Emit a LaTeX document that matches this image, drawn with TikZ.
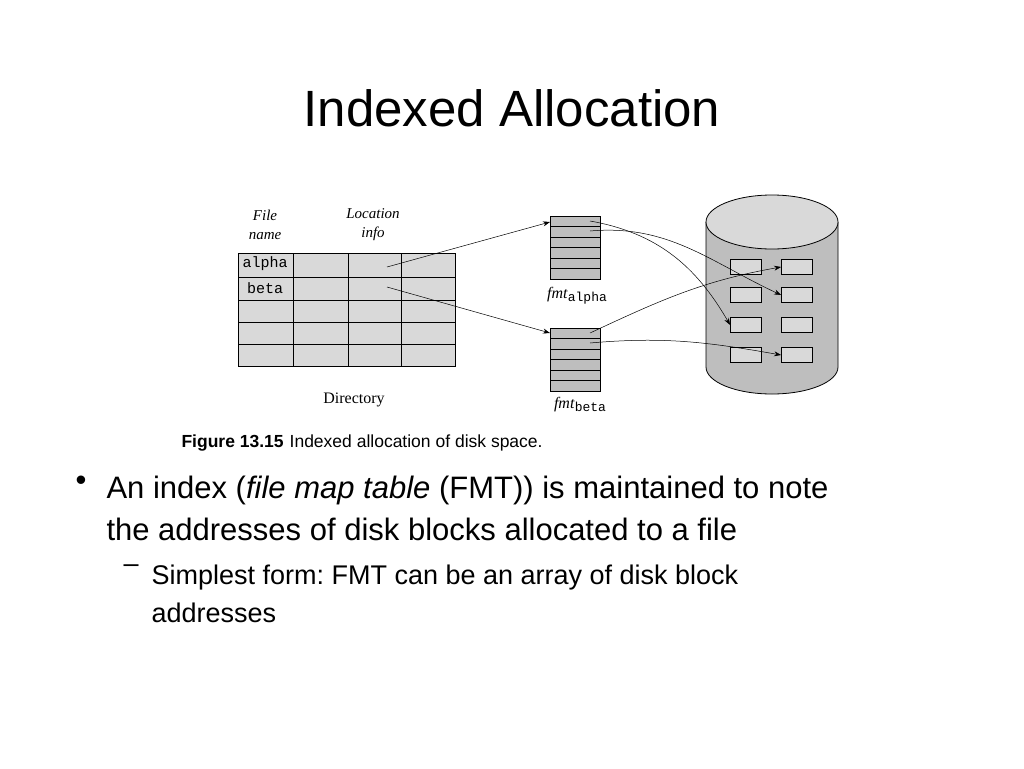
\documentclass[tikz,border=0pt]{standalone}
\usepackage{fontspec}
\setmainfont{Liberation Sans}
\newfontfamily\serif{Liberation Serif}
\newfontfamily\mono{Liberation Mono}
\usetikzlibrary{arrows.meta}
\definecolor{lightcell}{HTML}{D9D9D9}
\definecolor{darkcell}{HTML}{BEBEBE}
\begin{document}
\frenchspacing
\begin{tikzpicture}[x=1pt,y=-1pt,
                    cell/.style={draw,fill=lightcell,line width=0.8pt},
                    fmt cell/.style={draw,fill=darkcell,line width=0.8pt},
                    block/.style={draw,fill=lightcell,line width=0.8pt,minimum width=31pt,minimum height=15pt,inner sep=0pt},
                    pointer/.style={-{Stealth[length=7pt,width=5pt]},line width=0.5pt},
                    head label/.style={font=\serif\itshape\fontsize{15}{19}\selectfont,align=center},
                    fig label/.style={font=\serif\fontsize{16}{17}\selectfont},
                    body text/.style={font=\fontsize{31}{42}\selectfont,anchor=north west,align=left}]
    \path[use as bounding box] (0,0) rectangle (1024,768);

    \node (title) at (512,108) {\fontsize{51}{55}\selectfont Indexed Allocation};

    % directory
    \foreach \r/\ya/\yb in {1/253/277,2/277/300,3/300/322,4/322/344,5/344/366}
        \foreach \c/\xa/\xb in {1/238/293,2/293/348,3/348/401,4/401/455}
            \draw[cell] (\xa,\ya) rectangle (\xb,\yb);
    \node[head label] (file name) at (265,225) {File\\name};
    \node[head label] (location info) at (373,225) {Location\\info};
    \node[font=\mono\fontsize{15}{17}\selectfont] (alpha) at (265,264) {alpha};
    \node[font=\mono\fontsize{15}{17}\selectfont] (beta) at (265,288) {beta};
    \node[fig label] (directory) at (354,400) {Directory};
    \coordinate (alpha loc) at (387,267);
    \coordinate (beta loc) at (387,287);

    % file map tables
    \foreach \i in {0,...,5} {
        \draw[fmt cell] (550,216+10.5*\i) rectangle (600,226.5+10.5*\i);
        \draw[fmt cell] (550,328+10.5*\i) rectangle (600,338.5+10.5*\i);
    }
    \coordinate (fmt alpha top) at (550,222);
    \coordinate (fmt beta top) at (550,333);
    \coordinate (fa1) at (590,221);
    \coordinate (fa2) at (590,231);
    \coordinate (fb1) at (590,333);
    \coordinate (fb2) at (590,343);
    \node[fig label] (fmt alpha) at (577,296) {\textit{fmt}\raisebox{-3pt}{\mono\fontsize{13}{13}\selectfont alpha}};
    \node[fig label] (fmt beta) at (580,405) {\textit{fmt}\raisebox{-3pt}{\mono\fontsize{13}{13}\selectfont beta}};

    % disk
    \draw[fill=darkcell,line width=0.8pt] (706,222) -- (706,367) arc[start angle=180,end angle=0,x radius=66,y radius=27] -- (838,222);
    \draw[fill=lightcell,line width=0.8pt] (772,222) ellipse[x radius=66,y radius=27];
    \foreach \r/\y in {1/267,2/295,3/325,4/355} {
        \node[block] (bl\r) at (746,\y) {};
        \node[block] (br\r) at (797,\y) {};
    }

    \draw[pointer] (alpha loc) -- (fmt alpha top);
    \draw[pointer] (beta loc) -- (fmt beta top);
    \draw[pointer] (fa1) to[out=-10,in=120] (bl3.west);
    \draw[pointer] (fa2) to[out=5,in=155] (br2.west);
    \draw[pointer] (fb1) to[out=25,in=190] (br1.west);
    \draw[pointer] (fb2) to[out=5,in=170] (br4.west);

    % caption and text
    \node[anchor=west,font=\fontsize{17.5}{19}\selectfont] (caption) at (178,443) {\textbf{Figure 13.15}\hspace{6pt}Indexed allocation of disk space.};
    \node[body text] (bullet) at (72,472) {\textbullet};
    \node[body text] (point) at (103,472) {An index (\textit{file map table} (FMT)) is maintained to note\\the addresses of disk blocks allocated to a file};
    \node[body text,font=\fontsize{27}{38}\selectfont] (dash) at (120,561) {--};
    \node[body text,font=\fontsize{27}{38}\selectfont] (subpoint) at (148,561) {Simplest form: FMT can be an array of disk block\\addresses};
\end{tikzpicture}
\end{document}
